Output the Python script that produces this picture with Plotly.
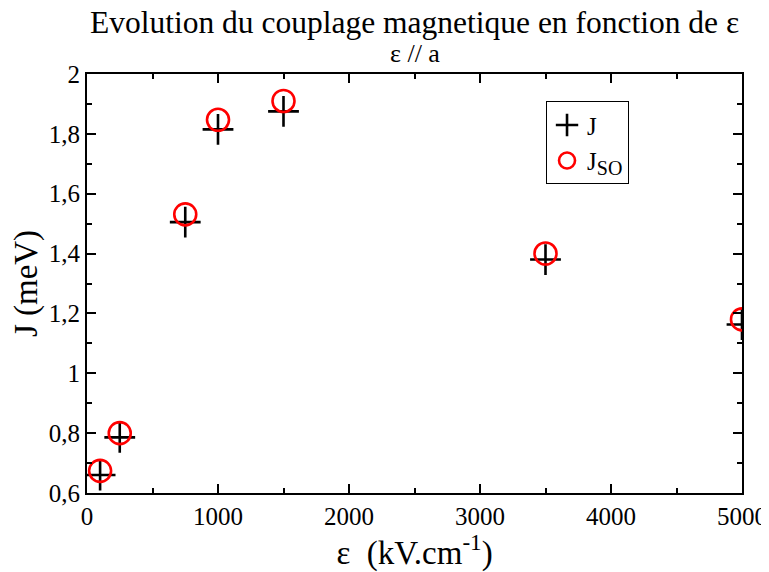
import plotly.graph_objects as go

# Data
field = [100, 250, 750, 1000, 1500, 3500, 5000]
J = [0.660, 0.786, 1.505, 1.815, 1.875, 1.380, 1.163]
J_SO = [0.674, 0.800, 1.531, 1.847, 1.910, 1.400, 1.180]

x_tickvals = [0, 1000, 2000, 3000, 4000, 5000]
x_ticktext = ["0", "1000", "2000", "3000", "4000", "5000"]
y_tickvals = [0.6, 0.8, 1.0, 1.2, 1.4, 1.6, 1.8, 2.0]
y_ticktext = ["0,6", "0,8", "1", "1,2", "1,4", "1,6", "1,8", "2"]

FONT = "Liberation Serif"

fig = go.Figure()
fig.add_trace(go.Scatter(
    x=field, y=J, mode="markers", name="J",
    marker=dict(symbol="cross-thin-open", size=22, color="black",
                line=dict(width=2.6, color="black")),
))
fig.add_trace(go.Scatter(
    x=field, y=J_SO, mode="markers",
    name="J<sub><span style='font-size:20px'>SO</span></sub>",
    marker=dict(symbol="circle-open", size=22, color="red",
                line=dict(width=2.6, color="red")),
))

axis_common = dict(
    showline=True, linecolor="black", linewidth=2, mirror="allticks",
    ticks="inside", ticklen=9, tickwidth=1.5, tickcolor="black",
    showgrid=False, zeroline=False,
    tickfont=dict(family=FONT, size=25, color="black"),
)

fig.update_xaxes(
    range=[0, 5000], tickvals=x_tickvals, ticktext=x_ticktext,
    minor=dict(dtick=500, ticks="inside", ticklen=5, tickwidth=1.5, tickcolor="black"),
    title=dict(text="ε  (kV.cm<sup>-1</sup>)", font=dict(family=FONT, size=33, color="black"),
               standoff=10),
    automargin=False,
    **axis_common,
)
fig.update_yaxes(
    range=[0.6, 2.0], tickvals=y_tickvals, ticktext=y_ticktext,
    minor=dict(dtick=0.1, ticks="inside", ticklen=5, tickwidth=1.5, tickcolor="black"),
    title=dict(text="J (meV)", font=dict(family=FONT, size=33, color="black"),
               standoff=5),
    automargin=False,
    **axis_common,
)

# the page places the figure 8px from the top-left corner
fig.update_layout(
    width=761, height=564,
    margin=dict(l=79, r=27, t=66, b=79),
    paper_bgcolor="white", plot_bgcolor="white",
    showlegend=True,
    legend=dict(
        x=0.7008, y=0.935, xanchor="left", yanchor="top",
        bordercolor="black", borderwidth=1, bgcolor="white",
        font=dict(family=FONT, size=25, color="black"),
        itemsizing="trace", tracegroupgap=0,
    ),
    annotations=[
        dict(text="Evolution du couplage magnetique en fonction de ε",
             xref="paper", yref="paper", x=0.5, y=1, yshift=52,
             xanchor="center", yanchor="middle", showarrow=False,
             font=dict(family=FONT, size=31.5, color="black")),
        dict(text="ε // a",
             xref="paper", yref="paper", x=0.5, y=1, yshift=21,
             xanchor="center", yanchor="middle", showarrow=False,
             font=dict(family=FONT, size=26, color="black")),
    ],
)

fig.write_html("out.html")
